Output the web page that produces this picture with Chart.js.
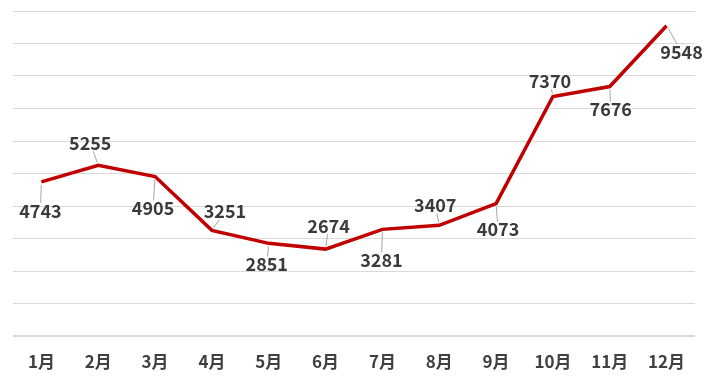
<!DOCTYPE html>
<html>
<head>
<meta charset="utf-8">
<script src="https://cdn.jsdelivr.net/npm/chart.js@4/dist/chart.umd.min.js"></script>
<style>
html,body{margin:0;padding:0;background:#fff;}
#wrap{width:709px;height:382px;position:relative;}
</style>
</head>
<body>
<div id="wrap"><canvas id="c" width="709" height="382"></canvas></div>
<script>
const categories = ['1月','2月','3月','4月','5月','6月','7月','8月','9月','10月','11月','12月'];
const values = [4743, 5255, 4905, 3251, 2851, 2674, 3281, 3407, 4073, 7370, 7676, 9548];
const yMin = 0, yMax = 10000, yStep = 1000;
// label placement relative to each point (pixels): [dx, dy]
const labelOffsets = [[-1,29],[-8,-22],[-2,32],[13,-19],[-2,21],[3,-23],[-1,31],[-4,-20],[2,26],[-3,-15],[1,23],[15,26]];

const FONT = '"Noto Sans CJK SC", "Noto Sans", sans-serif';

const labelPlugin = {
  id: 'labels',
  afterDatasetsDraw(chart) {
    const ctx = chart.ctx;
    const meta = chart.getDatasetMeta(0);
    ctx.save();
    ctx.font = 'bold 18px ' + FONT;
    ctx.textAlign = 'center';
    ctx.textBaseline = 'middle';
    meta.data.forEach((pt, i) => {
      const [dx, dy] = labelOffsets[i];
      const lx = pt.x + dx, ly = pt.y + dy;
      const txt = String(values[i]);
      const w = ctx.measureText(txt).width / 2 + 2;
      const h = 8;
      const vx = lx - pt.x, vy = ly - pt.y;
      const len = Math.hypot(vx, vy);
      let t = 1;
      if (Math.abs(vx) > 0.001) t = Math.min(t, Math.abs(w / vx));
      if (Math.abs(vy) > 0.001) t = Math.min(t, Math.abs(h / vy));
      const ex = lx - vx * t, ey = ly - vy * t;
      const sx = pt.x + vx / len * 3, sy = pt.y + vy / len * 3;
      if (Math.hypot(ex - sx, ey - sy) > 4) {
        ctx.strokeStyle = '#a6a6a6';
        ctx.lineWidth = 1;
        ctx.beginPath();
        ctx.moveTo(sx, sy);
        ctx.lineTo(ex, ey);
        ctx.stroke();
      }
      ctx.fillStyle = '#3a3a3a';
      ctx.fillText(txt, lx, ly);
    });
    ctx.restore();
  }
};

new Chart(document.getElementById('c'), {
  type: 'line',
  data: {
    labels: categories,
    datasets: [{
      data: values,
      borderColor: '#c00000',
      borderWidth: 3.5,
      pointRadius: 0,
      tension: 0,
      fill: false
    }]
  },
  options: {
    responsive: false,
    animation: false,
    layout: { padding: { left: 13, right: 14, top: 11, bottom: 0 } },
    plugins: { legend: { display: false }, tooltip: { enabled: false } },
    scales: {
      x: {
        offset: true,
        grid: { display: false, drawTicks: false },
        border: { display: false },
        ticks: { color: '#404040', font: { family: FONT, size: 17, weight: 'bold' }, padding: 15, maxRotation: 0, autoSkip: false },
        afterFit(scale) { scale.height = 46; }
      },
      y: {
        display: true,
        min: yMin, max: yMax,
        ticks: { display: false, stepSize: yStep },
        grid: {
          drawTicks: false,
          color: '#d9d9d9',
          lineWidth: (c) => (c.tick && c.tick.value === 0 ? 2 : 1)
        },
        border: { display: false },
        afterFit(scale) { scale.width = 0; }
      }
    }
  },
  plugins: [labelPlugin]
});
</script>
</body>
</html>
